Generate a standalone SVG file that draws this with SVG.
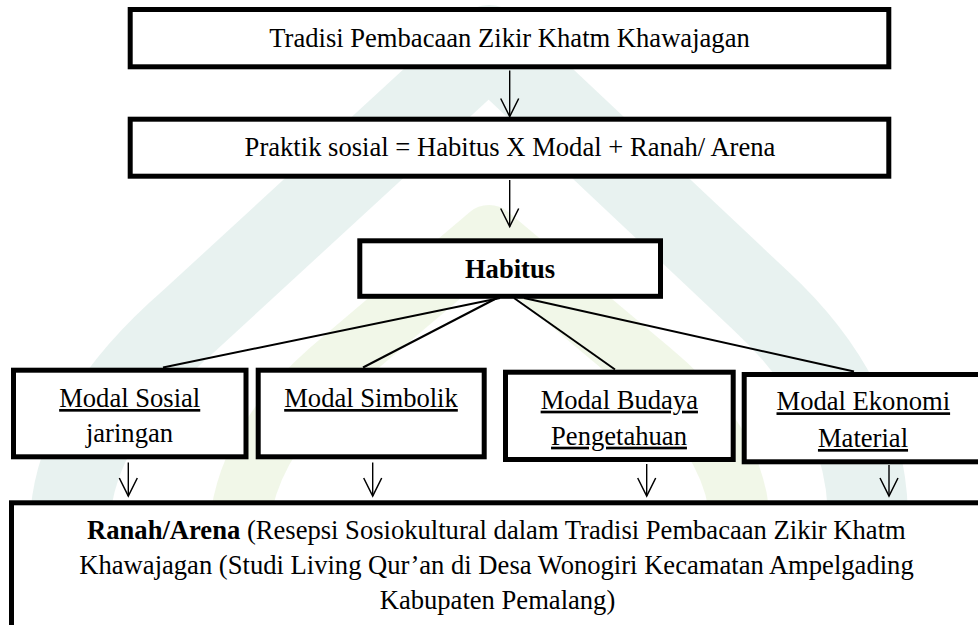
<svg xmlns="http://www.w3.org/2000/svg" width="978" height="625" viewBox="0 0 978 625">
  <defs>
    <marker id="vhead" markerUnits="userSpaceOnUse" markerWidth="24" markerHeight="24" refX="0" refY="0" orient="auto" overflow="visible">
      <path d="M-18,-9 L0,0 L-18,9" fill="none" stroke="#000" stroke-width="1.5"/>
    </marker>
    <style>
      .box { fill: #fff; stroke: #000; stroke-width: 5; }
      .t { font-family: "Liberation Serif", "Times New Roman", serif; font-size: 26.6px; fill: #000; }
      .mid { text-anchor: middle; }
      .b { font-weight: bold; }
      .u { text-decoration: underline; }
      .arrow { stroke: #000; stroke-width: 1.4; fill: none; marker-end: url(#vhead); }
      .link { stroke: #000; stroke-width: 2; fill: none; }
      .wm { fill: none; stroke-linejoin: round; }
    </style>
  </defs>
  <rect width="978" height="625" fill="#fff"/>

  <g id="watermark">
    <path class="wm" d="M70,640 L70,520 Q75,420 190,320 L489,45 L760,300 Q868,400 868,520 L868,640" stroke="#e5f1ee" stroke-width="80" fill="none" opacity="0.9"/>
    <path class="wm" d="M240,640 L240,520 Q250,440 330,370 L489,235 L650,370 Q735,440 740,520 L740,640" stroke="#f0f6e6" stroke-width="60" fill="none" opacity="0.9"/>
    <path class="wm" d="M430,640 L505,570 L580,640" stroke="#fcf7e1" stroke-width="40" fill="none" opacity="0.9"/>
  </g>

  <g id="connectors">
    <line class="arrow" x1="509.7" y1="70.5" x2="509.7" y2="116.5"/>
    <line class="arrow" x1="509.7" y1="180" x2="509.7" y2="226.5"/>
    <line class="link" x1="500" y1="298" x2="163" y2="367.5"/>
    <line class="link" x1="497" y1="298" x2="363" y2="367.5"/>
    <line class="link" x1="514" y1="298" x2="615" y2="369.5"/>
    <line class="link" x1="524" y1="298" x2="854" y2="371.5"/>
    <line class="arrow" x1="128.3" y1="462.5" x2="128.3" y2="496"/>
    <line class="arrow" x1="372.7" y1="462.5" x2="372.7" y2="496"/>
    <line class="arrow" x1="646.7" y1="464" x2="646.7" y2="496"/>
    <line class="arrow" x1="889" y1="465" x2="889" y2="496"/>
  </g>

  <g id="node-tradisi">
    <rect class="box" x="130.2" y="9.5" width="758.6" height="57.3"/>
    <text class="t mid" x="509.5" y="46.7">Tradisi Pembacaan Zikir Khatm Khawajagan</text>
  </g>

  <g id="node-praktik">
    <rect class="box" x="130.2" y="119.2" width="758.6" height="57"/>
    <text class="t mid" x="510" y="156">Praktik sosial = Habitus X Modal + Ranah/ Arena</text>
  </g>

  <g id="node-habitus">
    <rect class="box" x="359.8" y="240.8" width="300.7" height="55.5"/>
    <text class="t mid b" x="510" y="278.3">Habitus</text>
  </g>

  <g id="node-modal-sosial">
    <rect class="box" x="13.5" y="370.2" width="232.5" height="86.6"/>
    <text class="t mid u" x="129.7" y="407">Modal Sosial</text>
    <text class="t mid" x="129.5" y="442">jaringan</text>
  </g>

  <g id="node-modal-simbolik">
    <rect class="box" x="258.2" y="370.2" width="226" height="86.6"/>
    <text class="t mid u" x="371" y="407">Modal Simbolik</text>
  </g>

  <g id="node-modal-budaya">
    <rect class="box" x="505.5" y="372.2" width="227.7" height="87.3"/>
    <text class="t mid u" x="619.3" y="408.7">Modal Budaya</text>
    <text class="t mid u" x="619" y="444.7">Pengetahuan</text>
  </g>

  <g id="node-modal-ekonomi">
    <rect class="box" x="744.2" y="374.5" width="240" height="87.3"/>
    <text class="t mid u" x="863.3" y="410.3">Modal Ekonomi</text>
    <text class="t mid u" x="863" y="447">Material</text>
  </g>

  <g id="node-ranah">
    <rect class="box" x="11.5" y="502.8" width="1000" height="200"/>
    <text class="t mid" x="496.4" y="539.3"><tspan class="b">Ranah/Arena</tspan> (Resepsi Sosiokultural dalam Tradisi Pembacaan Zikir Khatm</text>
    <text class="t mid" x="496.5" y="574.3">Khawajagan (Studi Living Qur’an di Desa Wonogiri Kecamatan Ampelgading</text>
    <text class="t mid" x="497.5" y="608.7">Kabupaten Pemalang)</text>
  </g>
</svg>
